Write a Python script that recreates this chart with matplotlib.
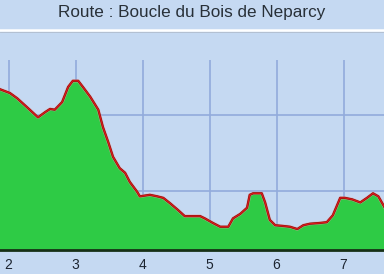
import matplotlib
matplotlib.use("Agg")
import matplotlib.pyplot as plt
import numpy as np

# distance (km) and elevation (arbitrary units, grid every 100)
dist = [1.87, 2.02, 2.13, 2.28, 2.44, 2.55, 2.62, 2.69, 2.80, 2.89,
        2.96, 3.04, 3.11, 3.22, 3.34, 3.41, 3.49, 3.56, 3.66, 3.74,
        3.81, 3.92, 3.96, 4.11, 4.22, 4.31, 4.41, 4.53, 4.63, 4.71,
        4.86, 4.93, 5.05, 5.16, 5.28, 5.35, 5.46, 5.56, 5.60, 5.65,
        5.78, 5.83, 5.90, 5.98, 6.10, 6.20, 6.31, 6.40, 6.50, 6.65,
        6.75, 6.84, 6.95, 7.02, 7.13, 7.25, 7.35, 7.44, 7.52, 7.61]
elev = [234, 229, 222, 210, 197, 204, 208, 207, 217, 237,
        245, 245, 237, 224, 207, 184, 164, 145, 130, 124,
        112, 99, 93, 95, 93, 91, 84, 75, 67, 67,
        67, 64, 58, 53, 53, 64, 70, 78, 95, 97,
        97, 85, 62, 55, 54, 53, 50, 55, 57, 58,
        59, 68, 91, 91, 89, 85, 91, 97, 93, 79]
xticks = [2, 3, 4, 5, 6, 7]
title = "Route : Boucle du Bois de Neparcy"

bg = "#c5d9f2"
fig = plt.figure(figsize=(3.84, 2.74), dpi=100, facecolor=bg)
ax = fig.add_axes([0, 24 / 274, 1, 190 / 274], facecolor=bg)

ax.fill_between(dist, elev, 0, color="#2ecb45", zorder=2)
ax.plot(dist, elev, color="#f0a0a0", lw=2.4, alpha=0.6, zorder=3)
ax.plot(dist, elev, color="#7a1010", lw=1.6, zorder=3)
ax.plot(dist, elev, color="#e01818", lw=0.9, zorder=4)

ax.set_xlim(1.873, 7.604)
ax.set_ylim(22.4, 272.4)
ax.set_xticks(xticks)
ax.set_yticks([100, 200])
ax.grid(True, color="#92abdc", lw=1.2, zorder=1)
for s in ["top", "left", "right"]:
    ax.spines[s].set_visible(False)
ax.spines["bottom"].set_color("#163016")
ax.spines["bottom"].set_linewidth(2)
ax.spines["bottom"].set_zorder(5)
ax.tick_params(axis="x", length=0, pad=6, labelsize=10, labelcolor="#1c2430")
ax.tick_params(axis="y", left=False, labelleft=False)
for lb in ax.get_xticklabels():
    lb.set_fontfamily("Liberation Sans")

# separator under the title
fig.add_artist(plt.Line2D([0, 1], [1 - 30 / 274] * 2, color="white", lw=1.8))
fig.add_artist(plt.Line2D([0, 1], [1 - 31.5 / 274] * 2, color="#b0bccc", lw=0.6))

fig.text(0.5, 1 - 13 / 274, title, ha="center", va="center",
         fontsize=12.3, family="Liberation Sans", color="#283038")

fig.savefig("out.png", dpi=100, facecolor=bg)
